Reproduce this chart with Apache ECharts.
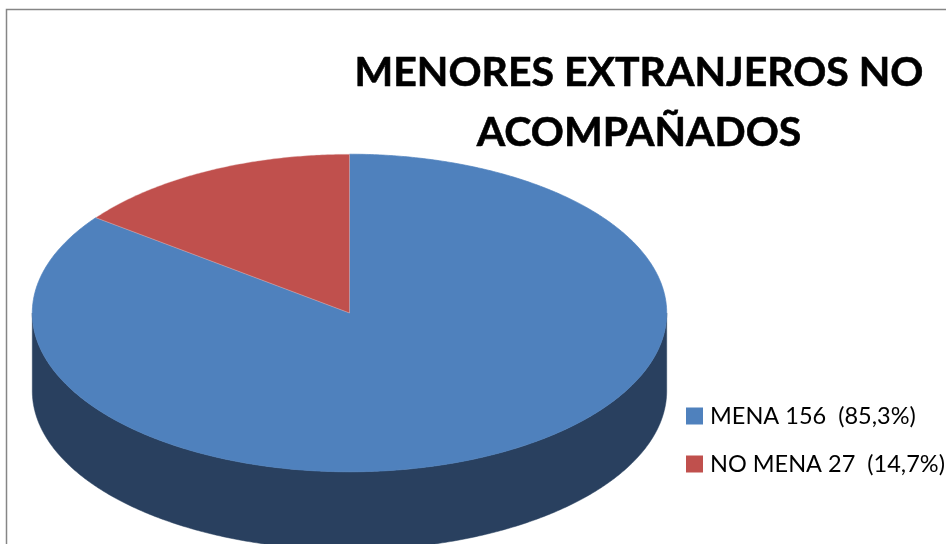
<!DOCTYPE html>
<html>
<head>
<meta charset="utf-8">
<style>html,body{margin:0;padding:0;background:#fff}#c{width:946px;height:544px}</style>
<script src="https://cdn.jsdelivr.net/npm/echarts@6/dist/echarts.min.js"></script>
</head>
<body>
<div id="c"></div>
<script>
const titleText = 'MENORES EXTRANJEROS NO\nACOMPAÑADOS';
const categories = ['MENA 156  (85,3%)', 'NO MENA 27  (14,7%)'];
const values = [156, 27];
const topColors = ['#4f81bd', '#c0504d'];
const edgeColors = ['#4f81bd', 'rgba(235,205,205,0.55)'];
const sideColors = ['#29405f', '#7d3331'];

const total = values.reduce((a, b) => a + b, 0);
const CX = 349.5, CY = 313, RX = 317.2, RY = 158.8, DEPTH = 78;

function arcPoints(a, b, cy) {
  const pts = [];
  const n = Math.max(2, Math.ceil((b - a) / (Math.PI / 360)));
  for (let i = 0; i <= n; i++) {
    const t = a + (b - a) * i / n;
    pts.push([CX + RX * Math.cos(t), cy + RY * Math.sin(t)]);
  }
  return pts;
}

function sliceSeries(idx) {
  const before = values.slice(0, idx).reduce((a, b) => a + b, 0);
  return {
    type: 'custom',
    name: categories[idx],
    coordinateSystem: 'none',
    itemStyle: { color: topColors[idx] },
    z: idx === 0 ? 2 : 3,
    silent: true,
    data: [values[idx]],
    renderItem: function (params, api) {
      const v = api.value(0);
      const start = -Math.PI / 2 + before / total * Math.PI * 2;
      const end = start + v / total * Math.PI * 2;
      const children = [];
      const a = Math.max(start, 0), b = Math.min(end, Math.PI);
      if (b > a) {
        const upper = arcPoints(a, b, CY);
        const lower = arcPoints(a, b, CY + DEPTH).reverse();
        children.push({
          type: 'polygon',
          shape: { points: upper.concat(lower) },
          style: { fill: sideColors[idx], stroke: sideColors[idx], lineWidth: 0.5 }
        });
      }
      children.push({
        type: 'polygon',
        shape: { points: [[CX, CY]].concat(arcPoints(start, end, CY)) },
        style: { fill: topColors[idx], stroke: edgeColors[idx], lineWidth: 0.7 }
      });
      return { type: 'group', children: children };
    }
  };
}

const chart = echarts.init(document.getElementById('c'), null, { renderer: 'canvas' });
chart.setOption({
  animation: false,
  backgroundColor: '#ffffff',
  title: {
    text: titleText,
    left: 639,
    top: 43,
    padding: 0,
    textAlign: 'center',
    textStyle: {
      fontFamily: 'Lato',
      fontWeight: 'bold',
      fontSize: 41,
      lineHeight: 60,
      color: '#000000',
      textBorderColor: '#000000',
      textBorderWidth: 0.6
    }
  },
  legend: {
    orient: 'vertical',
    left: 686,
    top: 404,
    padding: 0,
    itemWidth: 17,
    itemHeight: 17,
    itemGap: 24,
    icon: 'rect',
    selectedMode: false,
    textStyle: { fontFamily: 'Lato', fontSize: 23.5, color: '#000000', padding: [0, 0, 0, 2], lineHeight: 23 },
    data: categories
  },
  graphic: [
    { type: 'polyline', silent: true, z: 1, shape: { points: [[6.5, 544], [6.5, 9.5], [946, 9.5]] },
      style: { fill: null, stroke: '#868686', lineWidth: 1.5 } }
  ],
  series: values.map((_, i) => sliceSeries(i))
});
</script>
</body>
</html>
